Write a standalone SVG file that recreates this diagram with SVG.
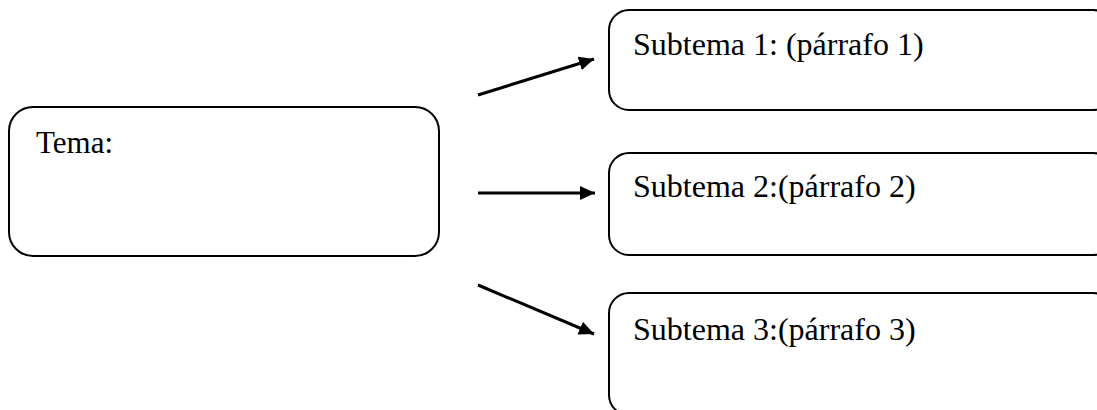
<svg xmlns="http://www.w3.org/2000/svg" width="1097" height="410" viewBox="0 0 1097 410">
<defs>
<style>
.box{fill:#fff;stroke:#000;stroke-width:2}
.t{font-family:"Liberation Serif","Times New Roman",serif;font-size:32px;fill:#000}
.c{stroke:#000;stroke-width:3;fill:none}
</style>
<marker id="ah" viewBox="0 0 15 14" refX="15" refY="7" markerWidth="15" markerHeight="14" markerUnits="userSpaceOnUse" orient="auto">
<path d="M0,0 L15,7 L0,14 z" fill="#000"/>
</marker>
</defs>
<rect width="1097" height="410" fill="#fff"/>
<g id="tema">
<rect class="box" x="9" y="107" width="430" height="149" rx="24" ry="24"/>
<text class="t" x="36" y="153" style="font-size:31px">Tema:</text>
</g>
<g id="subtema1">
<rect class="box" x="609" y="10" width="504" height="100" rx="20" ry="20"/>
<text class="t" x="633" y="55">Subtema 1: (párrafo 1)</text>
</g>
<g id="subtema2">
<rect class="box" x="609" y="153" width="504" height="102" rx="20" ry="20"/>
<text class="t" x="633" y="197">Subtema 2:(párrafo 2)</text>
</g>
<g id="subtema3">
<rect class="box" x="609" y="293" width="504" height="122" rx="20" ry="20"/>
<text class="t" x="633" y="340">Subtema 3:(párrafo 3)</text>
</g>
<g id="connectors">
<line class="c" x1="478" y1="95" x2="594" y2="59" marker-end="url(#ah)"/>
<line class="c" x1="478" y1="193" x2="595" y2="193" marker-end="url(#ah)"/>
<line class="c" x1="478" y1="285" x2="594" y2="334" marker-end="url(#ah)"/>
</g>
</svg>
